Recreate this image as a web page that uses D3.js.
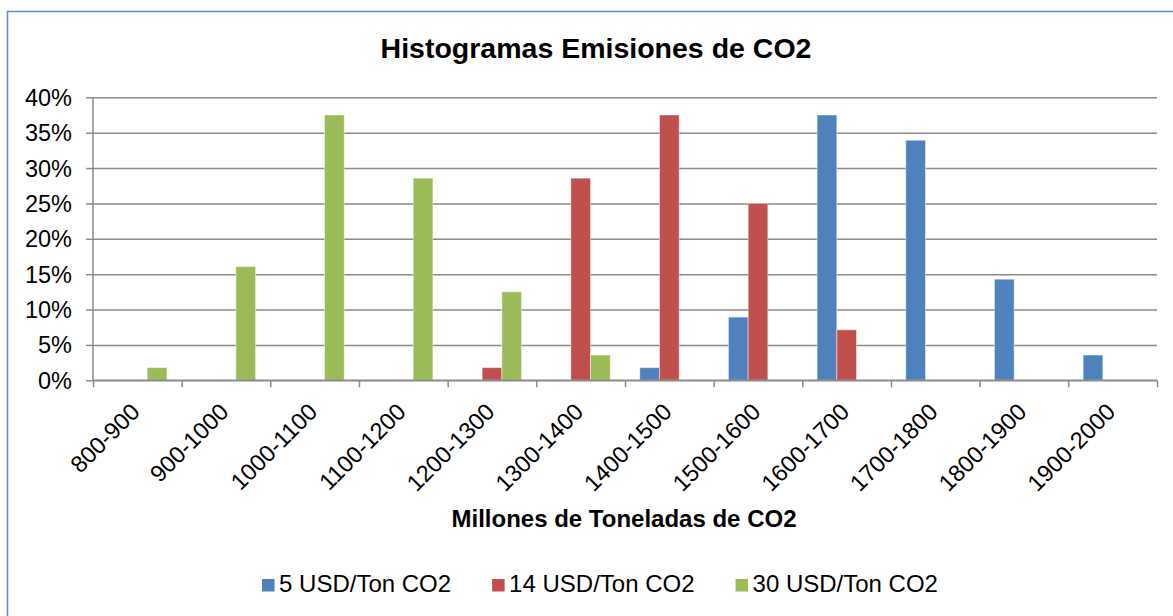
<!DOCTYPE html>
<html>
<head>
<meta charset="utf-8">
<script src="https://cdn.jsdelivr.net/npm/d3@7"></script>
<style>
  html, body { margin: 0; padding: 0; background: #fff; }
  svg { display: block; font-family: "Liberation Sans", Arial, sans-serif; }
</style>
</head>
<body>
<svg id="chart" width="1173" height="616"></svg>
<script>
const categories = ["800-900","900-1000","1000-1100","1100-1200","1200-1300","1300-1400",
                    "1400-1500","1500-1600","1600-1700","1700-1800","1800-1900","1900-2000"];
const seriesNames = ["5 USD/Ton CO2","14 USD/Ton CO2","30 USD/Ton CO2"];
const usd5  = [0, 0, 0, 0, 0, 0, 0.0179, 0.0893, 0.375, 0.3393, 0.1429, 0.0357];
const usd14 = [0, 0, 0, 0, 0.0179, 0.2857, 0.375, 0.25, 0.0714, 0, 0, 0];
const usd30 = [0.0179, 0.1607, 0.375, 0.2857, 0.125, 0.0357, 0, 0, 0, 0, 0, 0];
const yTicks = [0, 0.05, 0.10, 0.15, 0.20, 0.25, 0.30, 0.35, 0.40];
const colors = ["#4F81BD", "#C0504D", "#9BBB59"];
const chartTitle = "Histogramas Emisiones de CO2";
const xTitle = "Millones de Toneladas de CO2";

const seriesValues = [usd5, usd14, usd30];
const svg = d3.select("#chart");

// outer border
svg.append("rect").attr("x", 7.5).attr("y", 11.5).attr("width", 1300).attr("height", 700)
  .attr("fill", "none").attr("stroke", "#5B8BD0").attr("stroke-width", 1.5);

const pLeft = 93, pRight = 1157, pTop = 97.3, pBottom = 380.3;

const x0 = d3.scaleBand().domain(categories).range([pLeft, pRight]).padding(0);
const bw = x0.bandwidth() / 4.5;
const x1 = d3.scaleBand().domain(seriesNames)
  .range([bw * 0.75, x0.bandwidth() - bw * 0.75]).padding(0);
const y = d3.scaleLinear().domain([0, 0.4]).range([pBottom, pTop]);
const xb = d3.scaleLinear().domain([0, categories.length]).range([pLeft, pRight]);

// gridlines
const grid = svg.append("g").attr("transform", `translate(${pLeft},0)`)
  .call(d3.axisLeft(y).tickValues(yTicks).tickSize(-(pRight - pLeft)).tickFormat(""));
grid.select(".domain").remove();
grid.selectAll("line").attr("stroke", "#898989").attr("stroke-width", 1.5);

// bars
const gSeries = svg.append("g");
seriesNames.forEach((name, si) => {
  gSeries.append("g").selectAll("rect")
    .data(seriesValues[si].map((v, i) => ({ c: categories[i], v })).filter(d => d.v > 0))
    .join("rect")
    .attr("x", d => x0(d.c) + x1(name))
    .attr("y", d => y(d.v))
    .attr("width", x1.bandwidth())
    .attr("height", d => y(0) - y(d.v))
    .attr("fill", colors[si])
    .attr("stroke", "rgba(255,255,255,0.45)")
    .attr("stroke-width", 1);
});

// y axis
const yAxis = svg.append("g").attr("transform", `translate(${pLeft},0)`)
  .call(d3.axisLeft(y).tickValues(yTicks).tickSize(7).tickPadding(14)
        .tickFormat(d => Math.round(d * 100) + "%"));
yAxis.select(".domain").attr("stroke", "#898989").attr("stroke-width", 1.5)
  .attr("d", `M0,${pTop}V${pBottom}`);
yAxis.selectAll("line").attr("stroke", "#898989").attr("stroke-width", 1.5);
yAxis.selectAll("text").attr("font-size", 23.5).attr("fill", "#000")
  .attr("font-family", "Liberation Sans, Arial, sans-serif").attr("dy", "0.34em");

// x axis boundaries (ticks)
const xAxis = svg.append("g").attr("transform", `translate(0,${pBottom})`)
  .call(d3.axisBottom(xb).tickValues(d3.range(categories.length + 1)).tickSize(7).tickFormat(""));
xAxis.select(".domain").attr("stroke", "#898989").attr("stroke-width", 1.5)
  .attr("d", `M${pLeft},0H${pRight}`);
xAxis.selectAll("line").attr("stroke", "#898989").attr("stroke-width", 1.5);

// x labels
const xLab = svg.append("g").attr("transform", `translate(0,${pBottom})`)
  .call(d3.axisBottom(x0).tickSize(0).tickFormat(d => d));
xLab.select(".domain").remove();
xLab.selectAll("text")
  .attr("font-size", 23.5).attr("fill", "#000")
  .attr("font-family", "Liberation Sans, Arial, sans-serif")
  .attr("text-anchor", "end")
  .attr("dy", 0).attr("y", 0)
  .attr("transform", "translate(4,33) rotate(-45)");

// title
svg.append("text").attr("x", 596).attr("y", 58).attr("text-anchor", "middle")
  .attr("font-size", 28.5).attr("font-weight", "bold").text(chartTitle);

// x title
svg.append("text").attr("x", 624).attr("y", 527).attr("text-anchor", "middle")
  .attr("font-size", 24).attr("font-weight", "bold").text(xTitle);

// legend
const legend = svg.append("g");
const items = legend.selectAll("g").data(seriesNames).join("g");
items.append("rect").attr("width", 12.5).attr("height", 12.5).attr("y", -13)
  .attr("fill", (d, i) => colors[i]);
items.append("text").attr("x", 17).attr("y", 0).attr("font-size", 24).text(d => d);
const widths = [];
items.each(function () {
  widths.push(17 + this.querySelector("text").getComputedTextLength());
});
const gap = 41;
const total = d3.sum(widths) + gap * (widths.length - 1);
let start = 600 - total / 2;
items.attr("transform", (d, i) => {
  const tx = start; start += widths[i] + gap;
  return `translate(${tx},592)`;
});
</script>
</body>
</html>
